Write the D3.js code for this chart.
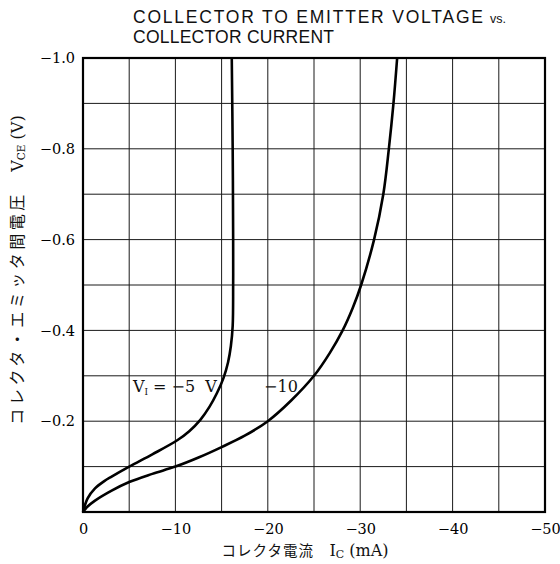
<!DOCTYPE html>
<html>
<head>
<meta charset="utf-8">
<script src="https://cdn.jsdelivr.net/npm/d3@7"></script>
<style>
  body { margin: 0; background: #fff; }
  svg { display: block; }
  .tick-label { font-family: "DejaVu Serif", serif; font-size: 14.5px; fill: #000; }
</style>
</head>
<body>
<div id="chart"></div>
<script>
// values
const xTicks = [0, -10, -20, -30, -40, -50];
const yTicks = [-0.2, -0.4, -0.6, -0.8, -1.0];

// V_I = -5 V
const ic5 = [0, -0.5, -1.3, -2.3, -3.1, -5.0, -7.5, -10.2, -11.5, -12.7, -13.7, -14.5, -15.2, -15.7, -16.0, -16.2, -16.25, -16.25, -16.2, -16.1];
const v5  = [0, -0.03, -0.052, -0.068, -0.078, -0.1, -0.127, -0.158, -0.178, -0.203, -0.232, -0.262, -0.295, -0.33, -0.365, -0.41, -0.5, -0.6, -0.8, -1.0];

// V_I = -10 V
const ic10 = [0, -0.5, -1.3, -3.1, -5.0, -7.5, -10.0, -12.5, -15, -17.5, -20, -22.5, -25, -26.7, -28.1, -29.2, -30.1, -31.5, -32.5, -33.1, -33.6, -34.0];
const v10  = [0, -0.012, -0.025, -0.047, -0.066, -0.084, -0.1, -0.12, -0.143, -0.168, -0.2, -0.245, -0.3, -0.35, -0.4, -0.45, -0.5, -0.6, -0.7, -0.8, -0.9, -1.0];

const width = 560, height = 564;
const margin = { top: 58, right: 15, bottom: 52, left: 83 };

const svg = d3.select("#chart").append("svg")
    .attr("width", width)
    .attr("height", height);

const x = d3.scaleLinear().domain([0, -50]).range([margin.left, width - margin.right]);
const y = d3.scaleLinear().domain([0, -1]).range([height - margin.bottom, margin.top]);

// grid
const grid = svg.append("g").attr("stroke", "#1a1a1a").attr("stroke-width", 1);
grid.selectAll("line.vx")
    .data(d3.range(0, 11).map(i => -5 * i))
    .join("line")
    .attr("x1", d => x(d)).attr("x2", d => x(d))
    .attr("y1", y(0)).attr("y2", y(-1));
grid.selectAll("line.hy")
    .data(d3.range(0, 11).map(i => -0.1 * i))
    .join("line")
    .attr("x1", x(0)).attr("x2", x(-50))
    .attr("y1", d => y(d)).attr("y2", d => y(d));

// frame
svg.append("rect")
    .attr("x", x(0)).attr("y", y(-1))
    .attr("width", x(-50) - x(0)).attr("height", y(0) - y(-1))
    .attr("fill", "none").attr("stroke", "#000").attr("stroke-width", 2.2);

// curves
const line = d3.line()
    .x(d => x(d[0]))
    .y(d => y(d[1]))
    .curve(d3.curveCatmullRom.alpha(0.5));

svg.append("path")
    .datum(d3.zip(ic5, v5))
    .attr("d", line)
    .attr("fill", "none").attr("stroke", "#000").attr("stroke-width", 2.6);
svg.append("path")
    .datum(d3.zip(ic10, v10))
    .attr("d", line)
    .attr("fill", "none").attr("stroke", "#000").attr("stroke-width", 2.6);

// axes (labels only)
const xAxis = d3.axisBottom(x).tickValues(xTicks).tickSize(0).tickPadding(12)
    .tickFormat(d => d === 0 ? "0" : d3.format("d")(d).replace("-", "\u2212"));
svg.append("g")
    .attr("transform", `translate(0,${y(0)})`)
    .call(xAxis)
    .call(g => g.select(".domain").remove())
    .call(g => g.selectAll("text").attr("class", "tick-label").attr("font-family", null).attr("font-size", null));

const yAxis = d3.axisLeft(y).tickValues(yTicks).tickSize(0).tickPadding(8)
    .tickFormat(d => d3.format(".1f")(d).replace("-", "\u2212"));
svg.append("g")
    .attr("transform", `translate(${x(0)},0)`)
    .call(yAxis)
    .call(g => g.select(".domain").remove())
    .call(g => g.selectAll("text").attr("class", "tick-label").attr("font-family", null).attr("font-size", null));

// title
const title = svg.append("g")
    .attr("font-family", "'Liberation Sans', Arial, sans-serif")
    .attr("fill", "#111");
title.append("text")
    .attr("x", 133).attr("y", 23)
    .attr("font-size", 17.5)
    .attr("textLength", 350).attr("lengthAdjust", "spacing")
    .text("COLLECTOR TO EMITTER VOLTAGE");
title.append("text")
    .attr("x", 490).attr("y", 23)
    .attr("font-size", 12.5)
    .text("vs.");
title.append("text")
    .attr("x", 133).attr("y", 43)
    .attr("font-size", 17.5)
    .attr("textLength", 201).attr("lengthAdjust", "spacing")
    .text("COLLECTOR CURRENT");

// x axis title
const xt = svg.append("text")
    .attr("x", 305).attr("y", 556)
    .attr("text-anchor", "middle")
    .attr("fill", "#111");
xt.append("tspan").attr("font-family", "'Noto Sans CJK JP', sans-serif").attr("font-size", 14.5)
    .attr("letter-spacing", 1).text("コレクタ電流\u3000");
xt.append("tspan").attr("font-family", "'DejaVu Serif', serif").attr("font-size", 16).text("I");
xt.append("tspan").attr("font-family", "'DejaVu Serif', serif").attr("font-size", 11).attr("dy", 2).text("C");
xt.append("tspan").attr("font-family", "'DejaVu Serif', serif").attr("font-size", 16).attr("dy", -2).text(" (mA)");

// y axis title
const yt = svg.append("text")
    .attr("transform", "translate(23,270) rotate(-90)")
    .attr("text-anchor", "middle")
    .attr("fill", "#111");
yt.append("tspan").attr("font-family", "'Noto Sans CJK JP', sans-serif").attr("font-size", 16)
    .attr("letter-spacing", 3.5).text("コレクタ・エミッタ間電圧\u3000");
yt.append("tspan").attr("font-family", "'DejaVu Serif', serif").attr("font-size", 16).text("V");
yt.append("tspan").attr("font-family", "'DejaVu Serif', serif").attr("font-size", 10.5).attr("dy", 2).text("CE");
yt.append("tspan").attr("font-family", "'DejaVu Serif', serif").attr("font-size", 16).attr("dy", -2).text(" (V)");

// curve labels
const lab = svg.append("g")
    .attr("font-family", "'DejaVu Serif', serif")
    .attr("font-size", 16)
    .attr("fill", "#111");
const l5 = lab.append("text").attr("x", x(-5.4)).attr("y", y(-0.265));
l5.append("tspan").text("V");
l5.append("tspan").attr("font-size", 9).attr("dy", 3).text("I");
l5.append("tspan").attr("dy", -3).text(" = \u22125\u00a0\u00a0V");
lab.append("text").attr("x", x(-19.6)).attr("y", y(-0.265)).text("\u221210");
</script>
</body>
</html>
